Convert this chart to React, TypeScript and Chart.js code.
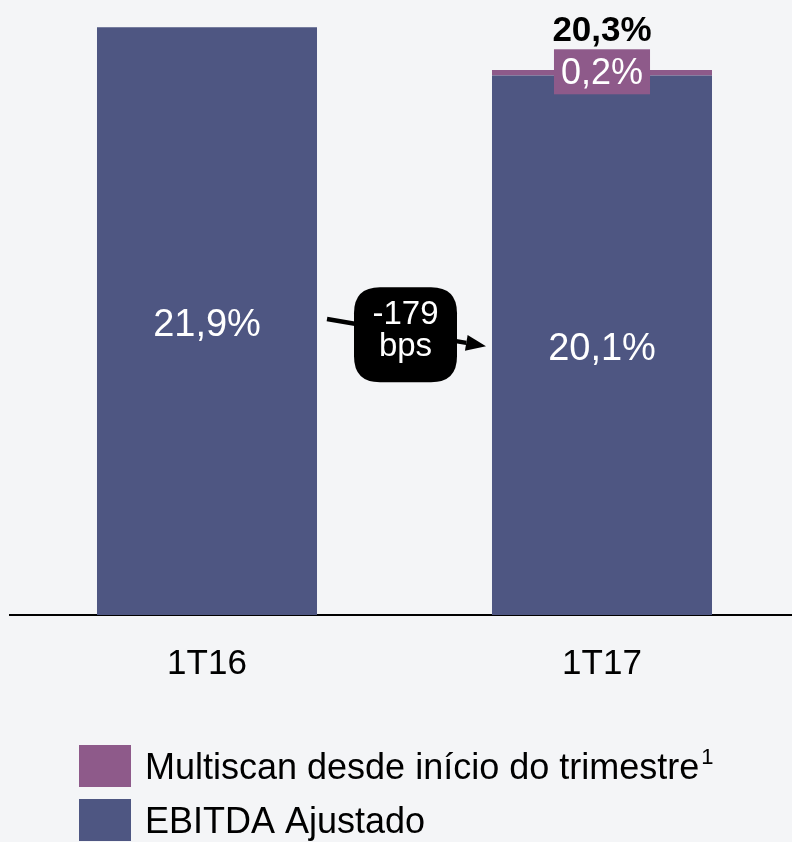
import React, { useEffect, useRef } from "react";
import { Chart, registerables } from "chart.js";

Chart.register(...registerables);

const categories = ["1T16", "1T17"];
const ebitdaValues = [21.9, 20.1];
const multiscanValues = [0, 0.2];
const totalLabels = ["", "20,3%"];
const ebitdaLabels = ["21,9%", "20,1%"];
const multiscanLabels = ["", "0,2%"];
const deltaLines = ["-179", "bps"];
const seriesNames = ["EBITDA Ajustado", "Multiscan desde início do trimestre"];
const legendSuperscript = ["", "1"];

const BLUE = "#4e5682";
const PURPLE = "#8e5a8a";
const BG = "#f4f5f7";
const FONT = "'Liberation Sans', Arial, sans-serif";

function roundRect(ctx: CanvasRenderingContext2D, x: number, y: number, w: number, h: number, r: number) {
  ctx.beginPath();
  ctx.moveTo(x + r, y);
  ctx.lineTo(x + w - r, y);
  ctx.quadraticCurveTo(x + w, y, x + w, y + r);
  ctx.lineTo(x + w, y + h - r);
  ctx.quadraticCurveTo(x + w, y + h, x + w - r, y + h);
  ctx.lineTo(x + r, y + h);
  ctx.quadraticCurveTo(x, y + h, x, y + h - r);
  ctx.lineTo(x, y + r);
  ctx.quadraticCurveTo(x, y, x + r, y);
  ctx.closePath();
}

const bgPlugin = {
  id: "bg",
  beforeDraw(chart: any) {
    const ctx = chart.ctx;
    ctx.save();
    ctx.fillStyle = BG;
    ctx.fillRect(0, 0, chart.width, chart.height);
    ctx.restore();
  },
};

const labelPlugin = {
  id: "labels",
  afterDatasetsDraw(chart: any) {
    const ctx: CanvasRenderingContext2D = chart.ctx;
    const m0 = chart.getDatasetMeta(0);
    const m1 = chart.getDatasetMeta(1);
    ctx.save();
    ctx.textAlign = "center";
    ctx.textBaseline = "middle";
    m0.data.forEach((bar: any, i: number) => {
      ctx.fillStyle = "#ffffff";
      ctx.font = `38px ${FONT}`;
      ctx.fillText(ebitdaLabels[i], bar.x, (bar.y + bar.base) / 2 + 4);
    });
    m1.data.forEach((bar: any, i: number) => {
      if (!multiscanLabels[i]) return;
      const cy = (bar.y + bar.base) / 2 - 1;
      ctx.font = `36px ${FONT}`;
      const tw = ctx.measureText(multiscanLabels[i]).width;
      const bw = tw + 14;
      const bh = 45;
      ctx.fillStyle = PURPLE;
      ctx.fillRect(bar.x - bw / 2, cy - bh / 2, bw, bh);
      ctx.fillStyle = "#ffffff";
      ctx.fillText(multiscanLabels[i], bar.x, cy + 2);
      ctx.fillStyle = "#000000";
      ctx.font = `bold 35px ${FONT}`;
      ctx.fillText(totalLabels[i], bar.x, cy - bh / 2 - 18);
    });
    const b1 = m0.data[0];
    const b2 = m0.data[1];
    const x0 = b1.x + b1.width / 2 + 10;
    const y0 = (b1.y + b1.base) / 2 - 2;
    const x1 = b2.x - b2.width / 2 - 6;
    const y1 = (b2.y + b2.base) / 2 + 1;
    ctx.strokeStyle = "#000";
    ctx.lineWidth = 4.5;
    ctx.beginPath();
    ctx.moveTo(x0, y0);
    const ang = Math.atan2(y1 - y0, x1 - x0);
    const hl = 20;
    const hw = 8;
    const bx = x1 - hl * Math.cos(ang);
    const by = y1 - hl * Math.sin(ang);
    ctx.lineTo(bx, by);
    ctx.stroke();
    ctx.fillStyle = "#000";
    ctx.beginPath();
    ctx.moveTo(x1, y1);
    ctx.lineTo(bx + hw * Math.sin(ang), by - hw * Math.cos(ang));
    ctx.lineTo(bx - hw * Math.sin(ang), by + hw * Math.cos(ang));
    ctx.closePath();
    ctx.fill();
    const cx = (x0 + x1) / 2 - 1;
    const cyb = (y0 + y1) / 2 + 2;
    const W = 103;
    const H = 95;
    roundRect(ctx, cx - W / 2, cyb - H / 2, W, H, 26);
    ctx.fill();
    ctx.fillStyle = "#fff";
    ctx.font = `33px ${FONT}`;
    ctx.fillText(deltaLines[0], cx, cyb - 20);
    ctx.fillText(deltaLines[1], cx, cyb + 12);
    ctx.restore();
  },
  afterDraw(chart: any) {
    const ctx: CanvasRenderingContext2D = chart.ctx;
    ctx.save();
    const items = [1, 0];
    items.forEach((dsIndex, row) => {
      const ds = chart.data.datasets[dsIndex];
      const top = 745 + row * 54;
      ctx.fillStyle = ds.backgroundColor;
      ctx.fillRect(79, top, 52, 42);
      ctx.fillStyle = "#000";
      ctx.font = `36px ${FONT}`;
      ctx.textAlign = "left";
      ctx.textBaseline = "middle";
      const label = ds.label as string;
      ctx.fillText(label, 145, top + 24);
      const sup = legendSuperscript[dsIndex];
      if (sup) {
        const w = ctx.measureText(label).width;
        ctx.font = `22px ${FONT}`;
        ctx.fillText(sup, 145 + w + 2, top + 13);
      }
    });
    ctx.restore();
  },
};

export default function App() {
  const ref = useRef<HTMLCanvasElement>(null);
  useEffect(() => {
    if (!ref.current) return;
    const chart = new Chart(ref.current, {
      type: "bar",
      data: {
        labels: categories,
        datasets: [
          {
            label: seriesNames[0],
            data: ebitdaValues,
            backgroundColor: BLUE,
            borderWidth: 0,
            barPercentage: 0.557,
            categoryPercentage: 1,
          },
          {
            label: seriesNames[1],
            data: multiscanValues,
            backgroundColor: PURPLE,
            borderWidth: 0,
            barPercentage: 0.557,
            categoryPercentage: 1,
          },
        ],
      },
      options: {
        animation: false,
        responsive: false,
        maintainAspectRatio: false,
        devicePixelRatio: 1,
        layout: { padding: { top: 3, left: 9.5, right: 10.5, bottom: 129 } },
        plugins: { legend: { display: false }, tooltip: { enabled: false } },
        scales: {
          x: {
            stacked: true,
            grid: { display: false, drawTicks: false },
            border: { display: true, color: "#000", width: 2 },
            ticks: { color: "#000", font: { family: FONT, size: 35 }, padding: 28 },
          },
          y: {
            stacked: true,
            display: false,
            min: 0,
            max: 22.8,
          },
        },
      },
      plugins: [bgPlugin, labelPlugin],
    });
    return () => chart.destroy();
  }, []);
  return (
    <div style={{ position: "absolute", left: 0, top: 0, width: 792, height: 842, overflow: "hidden", background: BG }}>
      <canvas ref={ref} width={810} height={842} style={{ width: 810, height: 842, display: "block" }} />
    </div>
  );
}
